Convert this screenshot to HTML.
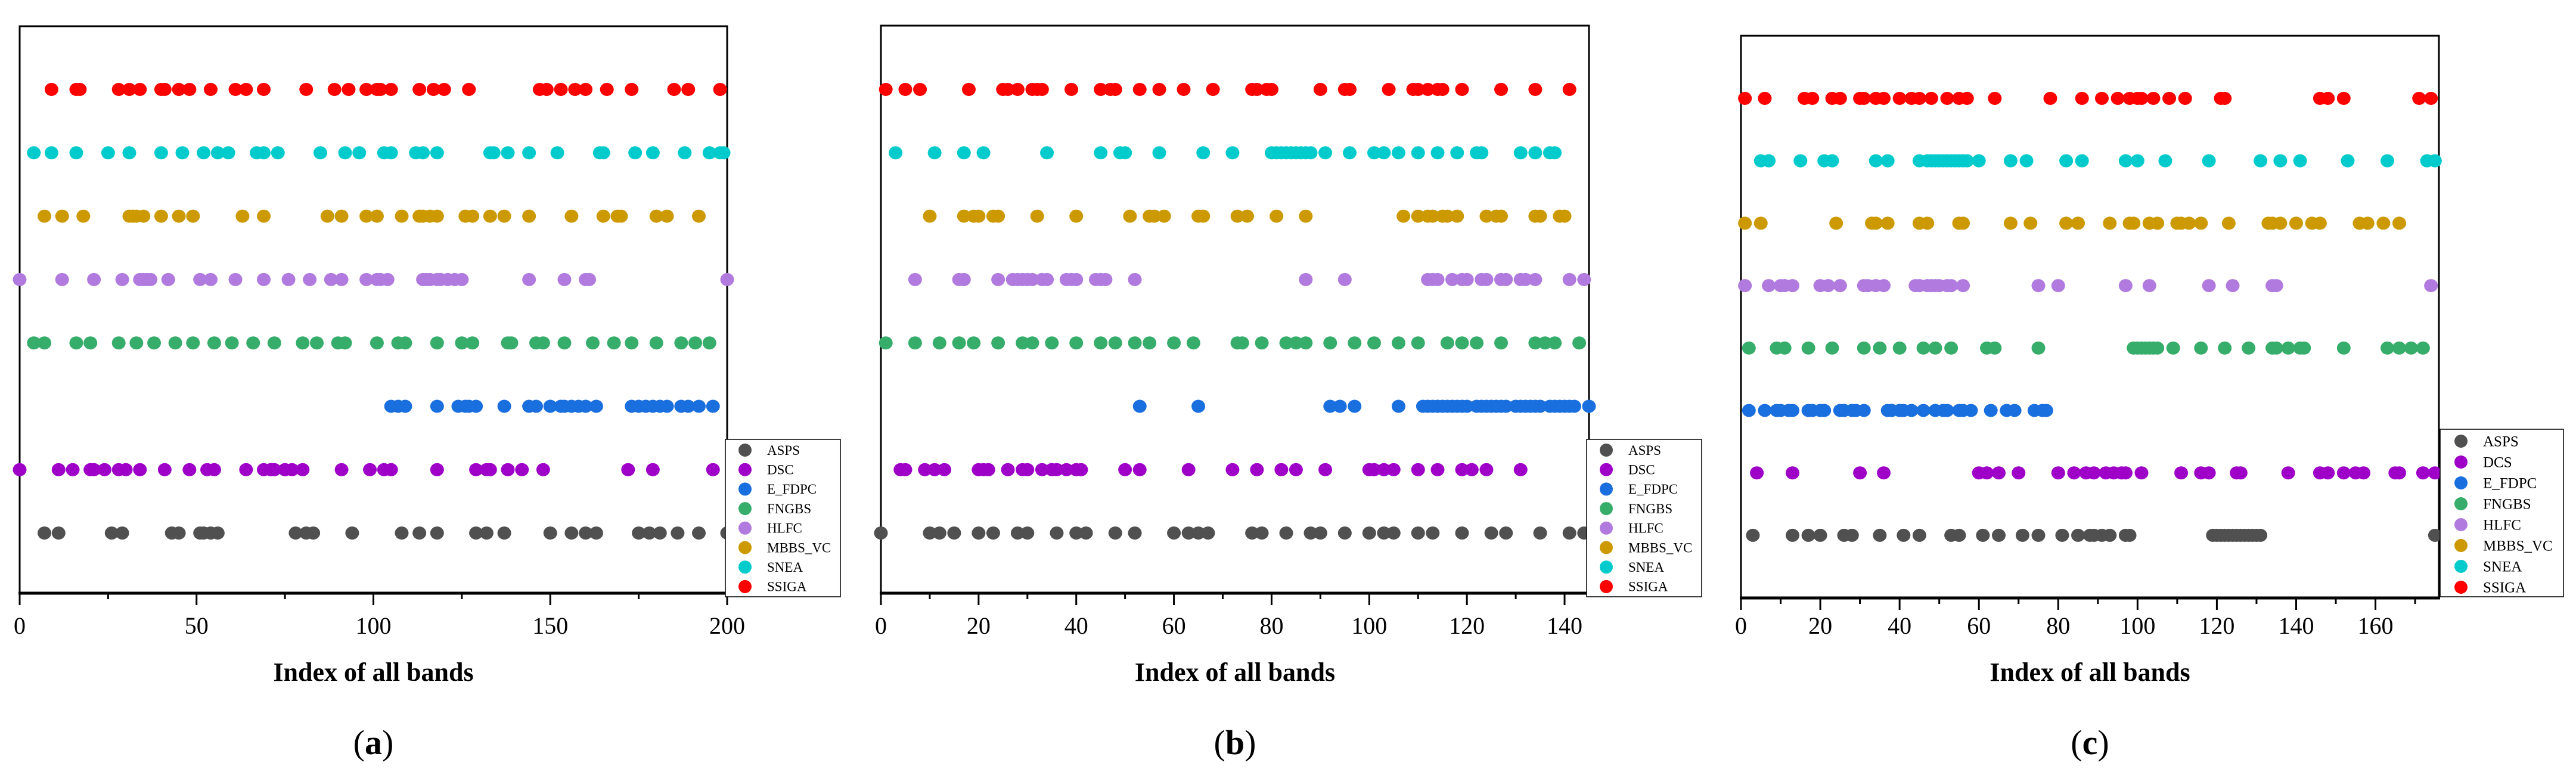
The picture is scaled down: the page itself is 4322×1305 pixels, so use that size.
<!DOCTYPE html>
<html><head><meta charset="utf-8">
<style>
html,body{margin:0;padding:0;background:#fff;}
svg{display:block;font-family:"Liberation Serif",serif;}
</style></head>
<body>
<svg id="chart" width="4322" height="1305" viewBox="0 0 4322 1305" xmlns="http://www.w3.org/2000/svg"></svg>
<script>
// ---------- data ----------
const seriesNames = ["ASPS","DSC","E_FDPC","FNGBS","HLFC","MBBS_VC","SNEA","SSIGA"];
const seriesNamesC = ["ASPS","DCS","E_FDPC","FNGBS","HLFC","MBBS_VC","SNEA","SSIGA"];
const seriesColors = ["#505050","#9e00c8","#1a6fdf","#37ad6b","#b07ade","#cc9900","#00cbcc","#ff0000"];

const aTicks = [0,50,100,150,200];
const aMinor = [25,75,125,175];
const aASPS = [7,11,26,29,43,45,51,52,54,56,78,81,83,94,108,113,118,129,132,137,150,156,160,163,175,178,181,186,192,200];
const aDSC = [0,11,15,20,21,24,28,30,34,41,48,53,55,64,69,71,72,75,77,80,91,99,103,105,118,129,132,133,138,142,148,172,179,196];
const aEFDPC = [105,107,109,118,124,126,127,129,137,144,146,150,153,154,156,158,160,163,173,175,177,179,181,183,187,189,192,196];
const aFNGBS = [4,7,16,20,28,33,38,44,49,55,60,66,72,80,84,90,92,101,107,109,118,125,128,138,139,146,148,154,162,168,173,180,187,191,195];
const aHLFC = [0,12,21,29,34,35,36,37,42,51,54,61,69,76,82,88,91,98,101,102,104,114,115,116,118,119,121,123,125,144,154,160,161,200];
const aMBBS = [7,12,18,31,32,33,35,40,45,49,63,69,87,91,98,101,108,113,114,116,118,126,128,133,137,144,156,165,169,170,180,183,192];
const aSNEA = [4,9,16,25,31,40,46,52,56,59,67,69,73,85,92,96,103,105,112,114,118,133,134,138,144,152,164,165,174,179,188,195,198,199];
const aSSIGA = [9,16,17,28,31,34,40,41,45,48,54,61,64,69,81,89,93,98,101,102,105,113,117,120,127,147,149,153,157,160,166,173,185,189,198];

const bTicks = [0,20,40,60,80,100,120,140];
const bMinor = [10,30,50,70,90,110,130];
const bASPS = [0,10,12,15,20,23,28,30,36,40,42,48,52,60,63,65,67,76,78,83,88,90,95,100,103,105,110,113,119,125,128,135,141,144];
const bDSC = [4,5,9,11,13,20,21,22,26,29,30,33,35,36,38,40,41,50,53,63,72,77,82,85,91,100,101,103,105,110,114,119,121,124,131];
const bEFDPC = [53,65,92,94,97,106,111,112,113,114,115,116,117,118,119,120,122,123,124,125,126,127,128,130,131,132,133,134,135,137,138,139,140,141,142,145];
const bFNGBS = [1,7,12,16,19,24,29,31,35,40,45,48,52,55,60,64,73,74,78,83,85,87,92,97,101,106,110,116,119,122,127,134,136,138,143];
const bHLFC = [7,16,17,24,27,28,29,30,31,33,34,38,39,40,44,45,46,52,87,95,112,113,114,117,119,120,123,124,127,128,131,132,134,141,144];
const bMBBS = [10,17,19,20,23,24,32,40,51,55,56,58,65,66,73,75,81,87,107,110,112,113,115,116,118,124,126,127,134,135,139,140];
const bSNEA = [3,11,17,21,34,45,49,50,57,66,72,80,81,82,83,84,85,86,87,88,91,96,101,103,106,110,114,118,122,123,131,134,137,138];
const bSSIGA = [1,5,8,18,25,26,28,31,32,33,39,45,47,48,53,57,62,68,76,77,79,80,90,95,96,104,109,110,112,114,115,119,127,134,141];

const cTicks = [0,20,40,60,80,100,120,140,160];
const cMinor = [10,30,50,70,90,110,130,150,170];
const cASPS = [3,13,17,20,26,28,35,41,45,53,55,61,65,71,75,81,85,88,89,91,93,97,98,119,120,121,122,123,124,125,126,127,128,129,130,131,175];
const cDCS = [4,13,30,36,60,62,65,70,80,84,87,89,92,94,96,97,101,111,116,118,125,126,138,146,148,152,155,157,165,166,172,175];
const cEFDPC = [2,6,9,10,12,13,17,18,20,21,25,26,28,29,31,37,38,40,41,43,46,49,51,52,55,56,58,63,67,69,74,76,77];
const cFNGBS = [2,9,11,17,23,31,35,40,46,49,53,62,64,75,99,100,101,102,103,104,105,109,116,122,128,134,135,138,141,142,152,163,166,169,172];
const cHLFC = [1,7,10,11,13,20,22,25,31,32,34,36,44,45,47,48,49,50,52,53,56,75,80,97,103,118,124,134,135,174];
const cMBBS = [1,5,24,33,34,37,45,47,55,56,68,73,82,85,93,98,99,103,105,110,111,113,116,123,133,134,136,140,144,146,156,158,162,166];
const cSNEA = [5,7,15,21,23,34,37,45,47,48,49,50,51,52,53,54,55,56,57,60,68,72,82,86,97,100,107,118,131,136,141,153,163,173,175];
const cSSIGA = [1,6,16,18,23,25,30,31,34,36,40,43,45,48,52,55,57,64,78,86,91,95,98,100,101,104,108,112,121,122,146,148,152,171,174];

// ---------- drawing ----------
const NS = "http://www.w3.org/2000/svg";
const svg = document.getElementById("chart");
function mk(tag, attrs, parent){
  const e = document.createElementNS(NS, tag);
  for (const k in attrs) e.setAttribute(k, attrs[k]);
  (parent||svg).appendChild(e);
  return e;
}

const panels = [
  {id:"a", x0:33, x1:1220, y0:44, y1:995, max:200, rowTop:150, rowStep:106.3, ticks:aTicks, minor:aMinor,
   series:[aASPS,aDSC,aEFDPC,aFNGBS,aHLFC,aMBBS,aSNEA,aSSIGA], names:seriesNames,
   leg:{x:1217,y:737,w:193,h:264,mx:1250,tx:1287,r0:755,step:32.7,fs:23}},
  {id:"b", x0:1478, x1:2666, y0:43, y1:995, max:145, rowTop:150, rowStep:106.3, ticks:bTicks, minor:bMinor,
   series:[bASPS,bDSC,bEFDPC,bFNGBS,bHLFC,bMBBS,bSNEA,bSSIGA], names:seriesNames,
   leg:{x:2662,y:737,w:193,h:264,mx:2695,tx:2732,r0:755,step:32.7,fs:23}},
  {id:"c", x0:2921, x1:4092, y0:60, y1:1003, max:176, rowTop:165, rowStep:104.7, ticks:cTicks, minor:cMinor,
   series:[cASPS,cDCS,cEFDPC,cFNGBS,cHLFC,cMBBS,cSNEA,cSSIGA], names:seriesNamesC,
   leg:{x:4094,y:720,w:207,h:281,mx:4129,tx:4166,r0:740,step:35,fs:25}}
];

panels.forEach(p=>{
  const g = mk("g",{});
  
  
  const xs = v => p.x0 + (v/p.max)*(p.x1-p.x0);
  const ys = i => p.rowTop + (7-i)*p.rowStep;

  // frame
  const fr = mk("rect",{x:p.x0,y:p.y0,width:p.x1-p.x0,height:p.y1-p.y0,fill:"none",stroke:"#000","stroke-width":3},g);
  
  
  const xa = mk("line",{x1:p.x0-2,x2:p.x1+2,y1:p.y1,y2:p.y1,stroke:"#000","stroke-width":5},g);
  
  

  // dots
  p.series.forEach((arr, si)=>{
    const sg = mk("g",{fill:seriesColors[si]},g);
    
    
    arr.forEach(v=>{
      const c = mk("ellipse",{cx:xs(v),cy:ys(si),rx:11.5,ry:11},sg);
      
      
    });
  });

  // ticks
  p.ticks.forEach(t=>{
    const l = mk("line",{x1:xs(t),x2:xs(t),y1:p.y1,y2:p.y1+20,stroke:"#000","stroke-width":3},g);
    
    
    const tx = mk("text",{x:xs(t),y:1063,"text-anchor":"middle","font-size":40,fill:"#000"},g);
    tx.textContent = t;
    
    
  });
  p.minor.forEach(t=>{
    const l = mk("line",{x1:xs(t),x2:xs(t),y1:p.y1,y2:p.y1+10,stroke:"#000","stroke-width":3},g);
    
    
  });

  // axis title
  const cx = (p.x0+p.x1)/2;
  const at = mk("text",{x:cx,y:1142,"text-anchor":"middle","font-size":44,"font-weight":"bold",fill:"#000"},g);
  at.textContent = "Index of all bands";
  
  

  // panel label
  const pl = mk("text",{x:cx,y:1265,"text-anchor":"middle","font-size":58,fill:"#000"},g);
  
  
  const t1 = mk("tspan",{},pl); t1.textContent="(";
  const t2 = mk("tspan",{"font-weight":"bold"},pl); t2.textContent=p.id;
  const t3 = mk("tspan",{},pl); t3.textContent=")";

  // legend
  const L = p.leg;
  const lg = mk("g",{},g);
  
  
  mk("rect",{x:L.x,y:L.y,width:L.w,height:L.h,fill:"#fff",stroke:"#000","stroke-width":1.5},lg);
  p.names.forEach((n,i)=>{
    const e = mk("g",{},lg);
    
    
    mk("circle",{cx:L.mx,cy:L.r0+i*L.step,r:11,fill:seriesColors[i]},e);
    const t = mk("text",{x:L.tx,y:L.r0+i*L.step+L.fs*0.34,"font-size":L.fs,fill:"#000"},e);
    t.textContent = n;
  });
});
</script>
</body></html>
